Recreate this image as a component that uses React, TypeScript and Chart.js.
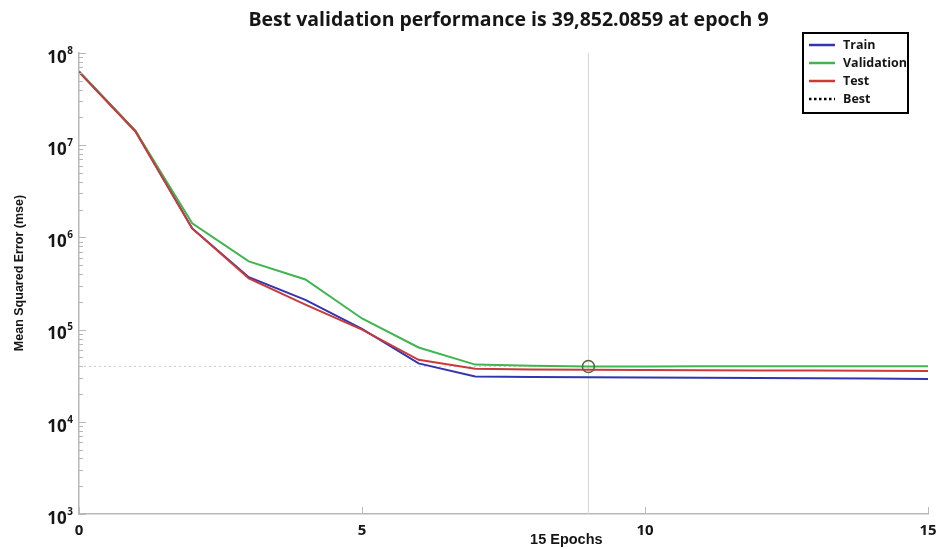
import { useEffect, useRef } from "react";
import { Chart, registerables } from "chart.js";

Chart.register(...registerables);

// Training record: mean squared error per epoch
const epochs = [0, 1, 2, 3, 4, 5, 6, 7, 8, 9, 10, 11, 12, 13, 14, 15];
const trainMse = [6.3e7, 1.42e7, 1.25e6, 3.7e5, 2.1e5, 1.02e5, 4.3e4, 3.1e4, 3.07e4, 3.05e4, 3.03e4, 3.0e4, 2.98e4, 2.96e4, 2.94e4, 2.92e4];
const validationMse = [6.3e7, 1.42e7, 1.42e6, 5.5e5, 3.5e5, 1.32e5, 6.4e4, 4.17e4, 4.05e4, 39852.0859, 39900, 39950, 39980, 40000, 40020, 40050];
const testMse = [6.2e7, 1.4e7, 1.25e6, 3.6e5, 1.87e5, 1.0e5, 4.7e4, 3.77e4, 3.7e4, 3.66e4, 3.64e4, 3.62e4, 3.6e4, 3.59e4, 3.58e4, 3.56e4];

const bestEpoch = 9;
const bestValidation = 39852.0859;

const epochTicks = [0, 5, 10, 15];
const decadeExponents = [3, 4, 5, 6, 7, 8];

const seriesNames = ["Train", "Validation", "Test", "Best"];
const seriesColors = ["#3434b2", "#3fb54f", "#c93a3a", "#000000"];

const titleText = `Best validation performance is ${bestValidation.toLocaleString("en-US", {
  minimumFractionDigits: 4,
  maximumFractionDigits: 4,
})} at epoch ${bestEpoch}`;

const AXIS_GRAY = "#b8b8b8";
const TEXT_DARK = "#161616";
const SANS = "'Open Sans', 'DejaVu Sans', sans-serif";
const LIB = "'Liberation Sans', Arial, sans-serif";

const toPoints = (ys: number[]) => epochs.map((e, i) => ({ x: e, y: ys[i] }));

// Title, inward tick marks, superscript decade labels and axis titles
const axisDecor = {
  id: "axisDecor",
  afterDraw(chart: any) {
    const { ctx, chartArea, scales } = chart;
    const xs = scales.x;
    const ys = scales.y;
    ctx.save();

    // chart title
    ctx.fillStyle = TEXT_DARK;
    ctx.textAlign = "center";
    ctx.textBaseline = "middle";
    ctx.font = `bold 19.5px ${SANS}`;
    ctx.fillText(titleText, (chartArea.left + chartArea.right) / 2 + 5, 20);

    ctx.strokeStyle = AXIS_GRAY;
    ctx.lineWidth = 1;
    for (const e of decadeExponents) {
      for (let m = 1; m <= 9; m++) {
        const v = m * Math.pow(10, e);
        if (v > ys.max * 1.0001) break;
        const py = Math.round(ys.getPixelForValue(v)) + 0.5;
        const len = m === 1 ? 7 : 4;
        ctx.beginPath();
        ctx.moveTo(chartArea.left, py);
        ctx.lineTo(chartArea.left + len, py);
        ctx.stroke();
      }
    }
    for (const t of epochTicks) {
      const px = Math.round(xs.getPixelForValue(t)) + 0.5;
      ctx.beginPath();
      ctx.moveTo(px, chartArea.bottom);
      ctx.lineTo(px, chartArea.bottom - 7);
      ctx.stroke();
    }

    ctx.fillStyle = TEXT_DARK;
    ctx.textAlign = "right";
    ctx.textBaseline = "middle";
    for (const e of decadeExponents) {
      const py = ys.getPixelForValue(Math.pow(10, e));
      const right = chartArea.left - 6;
      ctx.font = `bold 10px ${SANS}`;
      const expW = ctx.measureText(String(e)).width;
      ctx.fillText(String(e), right, py - 2);
      ctx.font = `bold 17px ${SANS}`;
      ctx.fillText("10", right - expW - 0.5, py + 5);
    }

    // y-axis title
    ctx.save();
    ctx.translate(20, 273);
    ctx.rotate(-Math.PI / 2);
    ctx.textAlign = "center";
    ctx.textBaseline = "middle";
    ctx.font = `bold 12.5px ${LIB}`;
    ctx.fillText("Mean Squared Error (mse)", 0, 0);
    ctx.restore();

    // x-axis title
    ctx.textAlign = "center";
    ctx.textBaseline = "middle";
    ctx.font = `bold 14.5px ${LIB}`;
    ctx.fillText(`${epochs[epochs.length - 1]} Epochs`, chartArea.left + (chartArea.right - chartArea.left) * 0.574, 540);
    ctx.restore();
  },
};

// Boxed legend in the upper right corner
const boxedLegend = {
  id: "boxedLegend",
  afterDraw(chart: any) {
    const { ctx } = chart;
    const boxX = 803;
    const boxY = 33;
    const boxW = 105;
    const boxH = 80;
    ctx.save();
    ctx.fillStyle = "#ffffff";
    ctx.fillRect(boxX, boxY, boxW, boxH);
    ctx.strokeStyle = "#000000";
    ctx.lineWidth = 2;
    ctx.strokeRect(boxX, boxY, boxW, boxH);
    ctx.font = `bold 12.5px ${SANS}`;
    ctx.textAlign = "left";
    ctx.textBaseline = "middle";
    seriesNames.forEach((name, i) => {
      const cy = boxY + 12 + i * 18;
      ctx.strokeStyle = seriesColors[i];
      ctx.lineWidth = 2.5;
      ctx.setLineDash(name === "Best" ? [2.5, 2.5] : []);
      ctx.beginPath();
      ctx.moveTo(boxX + 6, cy);
      ctx.lineTo(boxX + 32, cy);
      ctx.stroke();
      ctx.setLineDash([]);
      ctx.fillStyle = TEXT_DARK;
      ctx.fillText(name, boxX + 40, cy);
    });
    ctx.restore();
  },
};

export default function App() {
  const canvasRef = useRef<HTMLCanvasElement | null>(null);

  useEffect(() => {
    document.body.style.margin = "0";
    const canvas = canvasRef.current;
    if (!canvas) return;

    const chart = new Chart(canvas, {
      type: "line",
      data: {
        datasets: [
          {
            label: "Best marker",
            data: [{ x: bestEpoch, y: bestValidation }],
            showLine: false,
            pointRadius: 6,
            pointHoverRadius: 6,
            pointStyle: "circle",
            pointBorderColor: "#4d6a3b",
            pointBackgroundColor: "rgba(0,0,0,0)",
            pointBorderWidth: 1.5,
            order: 0,
          },
          {
            label: "Train",
            data: toPoints(trainMse),
            borderColor: seriesColors[0],
            borderWidth: 2,
            pointRadius: 0,
            order: 3,
          },
          {
            label: "Validation",
            data: toPoints(validationMse),
            borderColor: seriesColors[1],
            borderWidth: 2,
            pointRadius: 0,
            order: 2,
          },
          {
            label: "Test",
            data: toPoints(testMse),
            borderColor: seriesColors[2],
            borderWidth: 2,
            pointRadius: 0,
            order: 1,
          },
          {
            label: "Best epoch",
            data: [
              { x: bestEpoch, y: 1e3 },
              { x: bestEpoch, y: 1e8 },
            ],
            borderColor: "#d6d6d6",
            borderWidth: 1,
            pointRadius: 0,
            order: 5,
          },
          {
            label: "Best level",
            data: [
              { x: epochs[0], y: bestValidation },
              { x: epochs[epochs.length - 1], y: bestValidation },
            ],
            borderColor: "#cfcfcf",
            borderWidth: 1,
            borderDash: [2, 3],
            pointRadius: 0,
            order: 5,
          },
        ],
      },
      options: {
        animation: false,
        responsive: true,
        maintainAspectRatio: false,
        layout: { padding: { left: 0, right: 13, top: 53, bottom: 0 } },
        plugins: {
          legend: { display: false },
          tooltip: { enabled: false },
          title: { display: false },
        },
        scales: {
          x: {
            type: "linear",
            min: 0,
            max: 15,
            afterFit: (s: any) => {
              s.height = 35;
              s.paddingLeft = 0;
              s.paddingRight = 0;
            },
            ticks: {
              stepSize: 5,
              padding: 8,
              color: TEXT_DARK,
              font: { family: SANS, size: 15, weight: "bold" },
              maxRotation: 0,
            },
            grid: { display: false, drawTicks: false },
            border: { display: true, color: AXIS_GRAY, width: 1.5 },
          },
          y: {
            type: "logarithmic",
            min: 1e3,
            max: 1e8,
            afterFit: (s: any) => {
              s.width = 79;
              s.paddingTop = 0;
              s.paddingBottom = 0;
            },
            ticks: { display: false },
            grid: { display: false, drawTicks: false },
            border: { display: true, color: AXIS_GRAY, width: 1.5 },
          },
        },
      },
      plugins: [axisDecor, boxedLegend],
    });

    return () => chart.destroy();
  }, []);

  return (
    <div style={{ position: "relative", width: 941, height: 549 }}>
      <canvas ref={canvasRef} />
    </div>
  );
}
